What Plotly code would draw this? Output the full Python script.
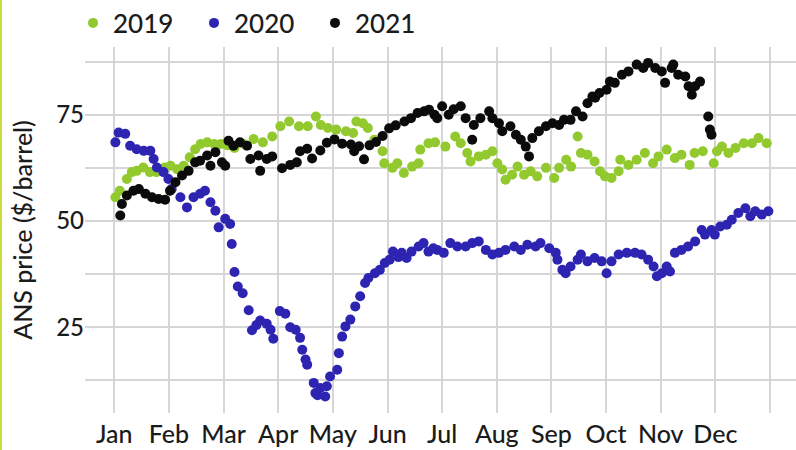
import plotly.graph_objects as go

# x positions are in month units (0 = start of Jan, 12 = end of Dec)
months = ["Jan", "Feb", "Mar", "Apr", "May", "Jun", "Jul", "Aug", "Sep", "Oct", "Nov", "Dec"]
y_ticks = [12.5, 25, 37.5, 50, 62.5, 75, 87.5]
y_tick_text = ["", "25", "", "50", "", "75", ""]

pts_2019 = [
    (0.02, 55.6), (0.1, 57.1), (0.23, 59.9), (0.32, 61.5), (0.41, 61.8), (0.53, 62.6),
    (0.65, 61.5), (0.77, 61.5), (0.92, 62.6), (1.03, 63.0), (1.15, 62.2), (1.27, 63.0),
    (1.38, 65.0), (1.48, 66.9), (1.58, 68.1), (1.7, 68.5), (1.83, 68.1), (1.95, 68.1),
    (2.07, 67.8), (2.2, 67.2), (2.37, 68.1), (2.55, 69.3), (2.72, 68.5), (2.89, 69.9),
    (3.04, 72.3), (3.2, 73.4), (3.38, 72.3), (3.54, 72.3), (3.69, 74.6), (3.78, 72.6),
    (3.91, 71.9), (4.06, 71.5), (4.24, 71.1), (4.37, 70.7), (4.43, 73.4), (4.55, 73.0),
    (4.64, 71.9), (4.76, 69.1), (4.91, 66.4), (4.94, 63.6), (5.09, 62.5), (5.18, 63.6),
    (5.3, 61.3), (5.45, 62.8), (5.57, 63.6), (5.6, 66.8), (5.75, 68.3), (5.87, 68.5),
    (6.06, 67.5), (6.24, 69.9), (6.34, 68.3), (6.46, 66.0), (6.52, 64.0), (6.67, 65.2),
    (6.8, 65.6), (6.92, 66.4), (7.01, 63.6), (7.1, 62.1), (7.16, 59.7), (7.28, 60.9),
    (7.38, 62.8), (7.5, 60.9), (7.62, 61.7), (7.74, 60.5), (7.9, 62.5), (8.05, 60.1),
    (8.14, 62.5), (8.27, 64.4), (8.36, 62.8), (8.48, 69.9), (8.54, 66.0), (8.66, 65.6),
    (8.79, 64.0), (8.89, 61.7), (8.98, 60.5), (9.1, 60.1), (9.23, 61.7), (9.26, 64.4),
    (9.41, 63.2), (9.56, 64.4), (9.71, 66.0), (9.86, 63.6), (9.96, 65.2), (10.11, 66.8),
    (10.26, 64.8), (10.38, 65.6), (10.53, 63.2), (10.62, 66.0), (10.77, 66.4), (10.97, 63.6),
    (11.03, 66.4), (11.12, 67.5), (11.24, 66.0), (11.37, 67.2), (11.52, 68.3), (11.67, 68.3),
    (11.79, 69.5), (11.94, 68.3),
]

pts_2020 = [
    (0.02, 68.5), (0.08, 70.8), (0.2, 70.5), (0.29, 67.7), (0.41, 66.9), (0.54, 66.5),
    (0.66, 66.5), (0.72, 64.6), (0.78, 62.6), (0.9, 61.5), (0.99, 59.9), (1.05, 57.5),
    (1.21, 55.6), (1.33, 53.2), (1.45, 55.6), (1.57, 56.4), (1.66, 57.1), (1.76, 54.4),
    (1.85, 52.4), (1.91, 48.5), (2.03, 50.5), (2.12, 49.3), (2.15, 44.6), (2.2, 38.0),
    (2.26, 34.6), (2.35, 33.0), (2.46, 29.0), (2.52, 24.3), (2.6, 25.5), (2.67, 26.6),
    (2.79, 25.8), (2.86, 24.4), (2.91, 22.3), (3.03, 28.8), (3.13, 28.2), (3.22, 25.0),
    (3.32, 24.4), (3.4, 22.5), (3.44, 19.7), (3.5, 17.4), (3.53, 16.2), (3.65, 11.9),
    (3.68, 9.5), (3.72, 9.0), (3.77, 10.7), (3.86, 8.7), (3.89, 11.1), (3.95, 13.4),
    (4.08, 15.0), (4.11, 18.9), (4.17, 22.8), (4.23, 25.2), (4.32, 26.8), (4.41, 29.9),
    (4.5, 32.3), (4.59, 35.4), (4.65, 36.6), (4.77, 37.7), (4.86, 38.5), (4.95, 40.1),
    (5.04, 40.9), (5.1, 42.8), (5.2, 41.5), (5.26, 42.5), (5.35, 41.3), (5.44, 42.8),
    (5.57, 44.0), (5.66, 44.8), (5.75, 42.8), (5.84, 43.6), (5.91, 43.2), (6.03, 42.5),
    (6.15, 44.8), (6.28, 44.0), (6.43, 44.0), (6.55, 44.8), (6.67, 45.2), (6.8, 43.2),
    (6.92, 42.1), (7.04, 42.5), (7.16, 43.2), (7.32, 44.0), (7.44, 43.2), (7.56, 44.4),
    (7.71, 44.0), (7.8, 44.8), (7.96, 43.6), (8.08, 42.5), (8.11, 40.9), (8.2, 38.5),
    (8.26, 37.7), (8.35, 39.3), (8.48, 40.9), (8.54, 42.1), (8.66, 40.5), (8.79, 41.3),
    (8.92, 40.5), (9.01, 37.7), (9.1, 40.5), (9.23, 42.1), (9.38, 42.5), (9.53, 42.5),
    (9.65, 42.1), (9.77, 40.9), (9.87, 39.3), (9.93, 37.0), (10.02, 37.7), (10.11, 39.3),
    (10.17, 38.1), (10.26, 42.5), (10.38, 43.2), (10.5, 44.0), (10.63, 45.2), (10.75, 47.9),
    (10.81, 46.8), (10.93, 47.9), (10.99, 46.8), (11.09, 48.7), (11.21, 49.1), (11.3, 50.3),
    (11.42, 51.9), (11.55, 53.0), (11.64, 51.1), (11.73, 52.3), (11.85, 51.5), (11.97, 52.3),
]

pts_2021 = [
    (0.11, 51.3), (0.14, 54.0), (0.23, 56.0), (0.35, 57.1), (0.45, 57.5), (0.57, 56.4),
    (0.69, 55.6), (0.81, 55.2), (0.93, 55.0), (1.02, 57.1), (1.12, 59.1), (1.24, 60.7),
    (1.36, 61.8), (1.48, 63.8), (1.57, 64.2), (1.7, 65.4), (1.76, 63.0), (1.85, 66.2),
    (1.97, 63.8), (2.03, 63.0), (2.09, 68.9), (2.18, 67.7), (2.3, 68.5), (2.43, 67.7),
    (2.49, 64.6), (2.64, 65.4), (2.67, 61.8), (2.79, 64.6), (2.89, 65.2), (3.07, 62.4),
    (3.22, 63.2), (3.34, 63.8), (3.4, 66.4), (3.53, 67.0), (3.62, 64.7), (3.77, 66.6),
    (3.89, 68.4), (4.03, 69.2), (4.17, 68.2), (4.33, 68.0), (4.39, 66.4), (4.48, 67.6),
    (4.57, 64.5), (4.67, 67.8), (4.79, 68.6), (4.91, 70.0), (5.03, 71.8), (5.15, 72.5),
    (5.31, 73.4), (5.43, 74.2), (5.55, 75.4), (5.67, 75.8), (5.76, 76.2), (5.86, 75.0),
    (5.91, 74.2), (6.0, 77.0), (6.12, 75.0), (6.21, 76.3), (6.34, 77.0), (6.43, 74.2),
    (6.55, 69.1), (6.58, 72.6), (6.7, 74.2), (6.86, 75.8), (6.92, 74.2), (7.04, 73.0),
    (7.1, 71.1), (7.25, 72.3), (7.35, 70.3), (7.44, 69.1), (7.53, 67.5), (7.59, 65.2),
    (7.65, 69.5), (7.77, 71.1), (7.9, 72.3), (8.02, 73.0), (8.14, 72.6), (8.23, 73.8),
    (8.35, 73.8), (8.45, 75.8), (8.57, 74.6), (8.66, 77.7), (8.75, 79.3), (8.8, 79.0),
    (8.88, 80.1), (9.01, 80.9), (9.07, 82.8), (9.16, 82.5), (9.29, 84.4), (9.41, 85.2),
    (9.56, 86.8), (9.68, 86.0), (9.77, 87.2), (9.9, 86.0), (10.02, 85.2), (10.08, 82.5),
    (10.2, 86.0), (10.23, 86.8), (10.32, 84.4), (10.45, 84.0), (10.51, 81.7), (10.57, 79.7),
    (10.63, 81.7), (10.72, 82.8), (10.87, 74.6), (10.9, 71.5), (10.93, 70.3),
]

series = [
    ("2019", pts_2019, "#92c92e"),
    ("2020", pts_2020, "#2e24b2"),
    ("2021", pts_2021, "#0b0b0b"),
]

fig = go.Figure()
for name, pts, color in series:
    fig.add_trace(go.Scatter(
        x=[p[0] for p in pts], y=[p[1] for p in pts], mode="markers", name=name,
        marker=dict(size=10, color=color, line=dict(width=0)),
    ))

GRID = "#d6d6d6"
fig.update_layout(
    width=796, height=450,
    margin=dict(l=85, r=0, t=47, b=37, autoexpand=False),
    plot_bgcolor="white", paper_bgcolor="white",
    font=dict(family="Lato", color="#1b1b1b", weight=500),
    showlegend=True,
    legend=dict(
        orientation="h", xref="container", yref="container",
        x=73 / 796, xanchor="left", y=1 - 23 / 450, yanchor="middle",
        font=dict(size=26, weight=500), entrywidth=76, itemsizing="trace",
        bgcolor="rgba(0,0,0,0)",
    ),
    shapes=[dict(
        type="line", xref="paper", yref="paper",
        x0=-84 / 711, x1=-84 / 711, y0=-37 / 366, y1=1 + 47 / 366,
        line=dict(color="#cbdd3a", width=2),
    )],
)
fig.update_xaxes(
    range=[-0.536, 12.476], tickvals=list(range(13)), ticktext=months + [""],
    showgrid=True, gridcolor=GRID, gridwidth=2, zeroline=False, showline=False,
    ticks="", tickfont=dict(size=25, weight=500), automargin=False, ticklabelstandoff=4,
)
fig.update_yaxes(
    range=[4.82, 90.94], tickvals=y_ticks, ticktext=y_tick_text,
    showgrid=True, gridcolor=GRID, gridwidth=2, zeroline=False, showline=False,
    ticks="", tickfont=dict(size=24, weight=500), automargin=False,
    title=dict(text="ANS price ($/barrel)", font=dict(size=25, weight=500), standoff=16),
)

fig.write_html(
    "out.html",
    config={"displayModeBar": False},
    post_script="document.body.style.margin='0px';document.body.style.padding='0px';",
)
